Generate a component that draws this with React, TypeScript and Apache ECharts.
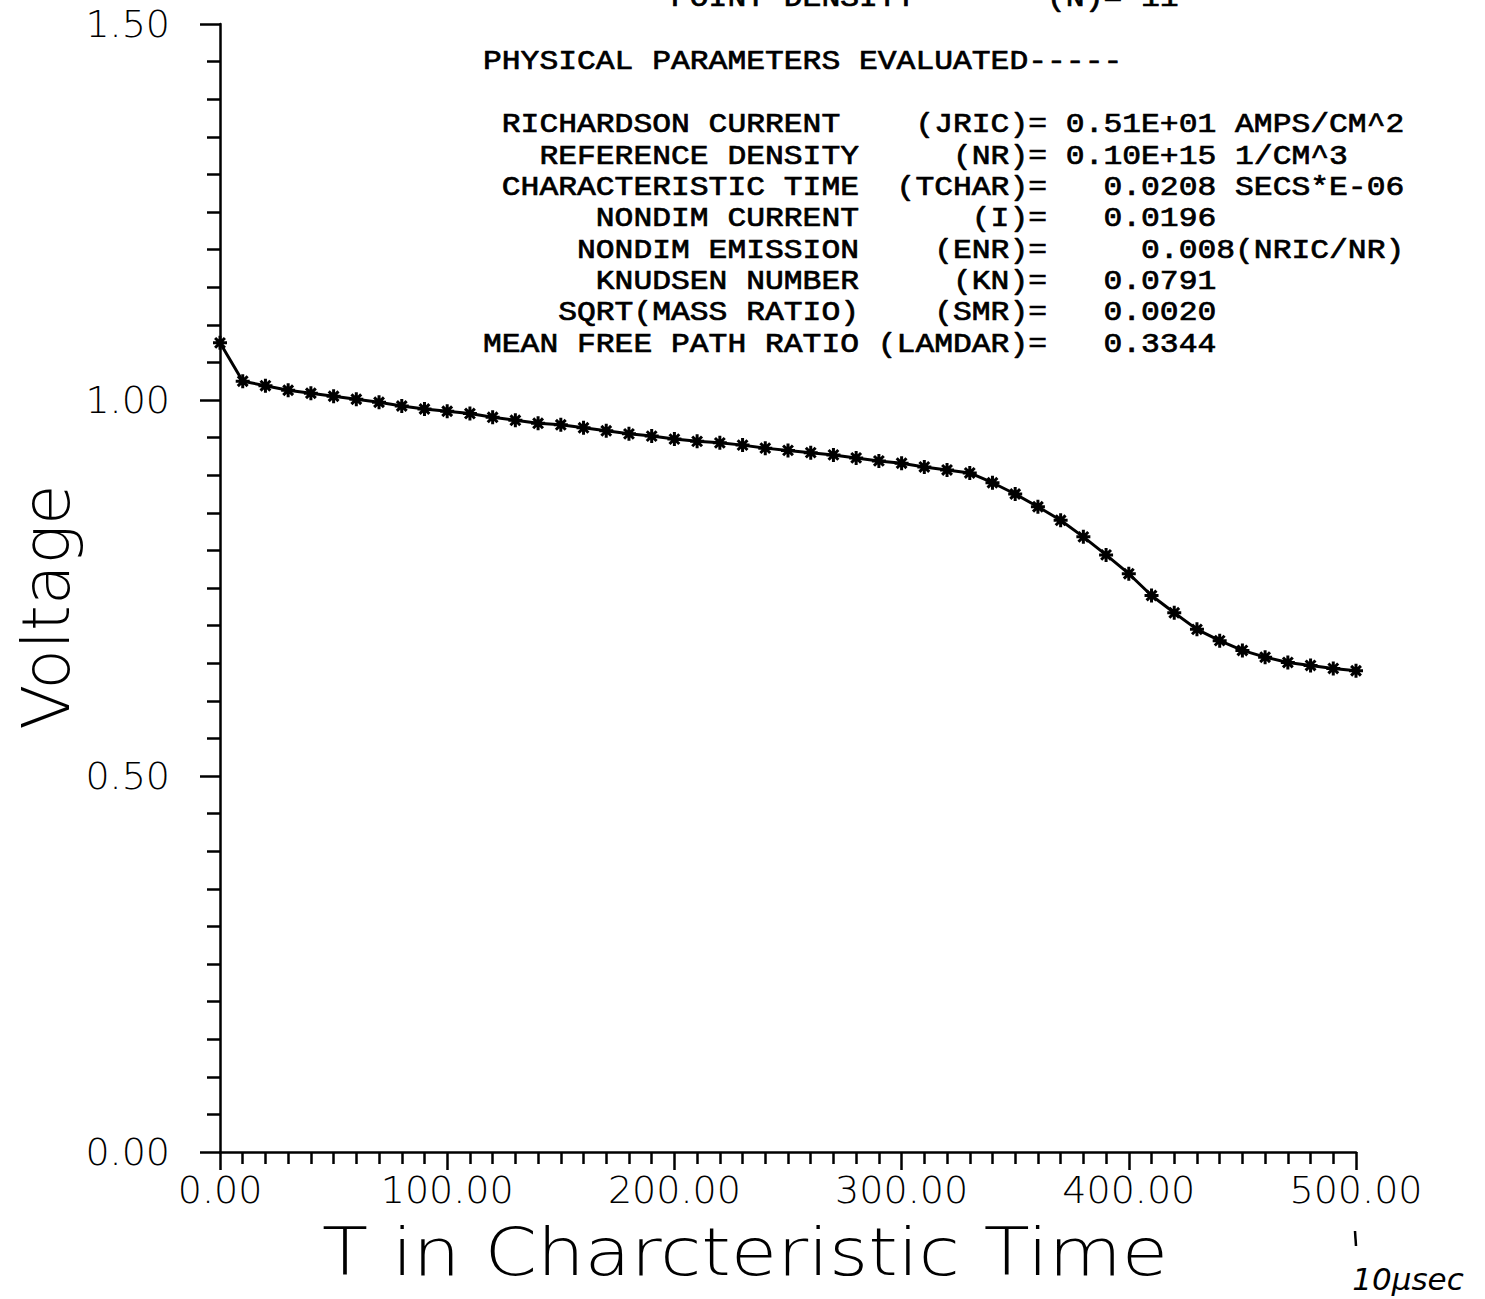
import React, { useEffect, useRef } from "react";
import * as echarts from "echarts";

const times = [0, 10, 20, 30, 40, 50, 60, 70, 80, 90, 100, 110, 120, 130, 140, 150, 160, 170, 180, 190, 200, 210, 220, 230, 240, 250, 260, 270, 280, 290, 300, 310, 320, 330, 340, 350, 360, 370, 380, 390, 400, 410, 420, 430, 440, 450, 460, 470, 480, 490, 500];
const voltages = [1.076, 1.025, 1.019, 1.013, 1.009, 1.005, 1.001, 0.997, 0.992, 0.988, 0.985, 0.982, 0.977, 0.973, 0.969, 0.967, 0.963, 0.959, 0.955, 0.952, 0.948, 0.945, 0.943, 0.940, 0.936, 0.933, 0.930, 0.927, 0.923, 0.919, 0.916, 0.911, 0.907, 0.903, 0.890, 0.875, 0.858, 0.840, 0.818, 0.794, 0.769, 0.740, 0.717, 0.695, 0.680, 0.667, 0.658, 0.651, 0.647, 0.643, 0.640];

const headerLine = "          POINT DENSITY       (N)= 11";
const sectionTitle = "PHYSICAL PARAMETERS EVALUATED-----";
const paramNames = ["RICHARDSON CURRENT ", "REFERENCE DENSITY", "CHARACTERISTIC TIME", "NONDIM CURRENT", "NONDIM EMISSION", "KNUDSEN NUMBER", "SQRT(MASS RATIO)", "MEAN FREE PATH RATIO"];
const paramSymbols = ["(JRIC)=", "(NR)=", "(TCHAR)=", "(I)=", "(ENR)=", "(KN)=", "(SMR)=", "(LAMDAR)="];
const paramValues = [" 0.51E+01 AMPS/CM^2", " 0.10E+15 1/CM^3", "   0.0208 SECS*E-06", "   0.0196", "     0.008(NRIC/NR)", "   0.0791", "   0.0020", "   0.3344"];

const xLabel = "T in Charcteristic Time";
const yLabel = "Voltage";
const noteText = "10\u00B5sec";

const nb = (s: string) => s.replace(/ /g, "\u00A0");

export default function App() {
  const ref = useRef<HTMLDivElement>(null);
  useEffect(() => {
    document.body.style.margin = "0";
    const chart = echarts.init(ref.current!, undefined, { renderer: "svg" });
    const mono = "'Liberation Mono', 'DejaVu Sans Mono', monospace";
    const sans = "'DejaVu Sans', 'Open Sans', sans-serif";
    const textX = 483;
    const lines: { t: string; y: number }[] = [
      { t: headerLine, y: -1 },
      { t: sectionTitle, y: 62 },
    ];
    paramNames.forEach((n, i) => {
      const name = n.trimEnd();
      const full = (i === 0 ? name.padStart(19).padEnd(20) : name.padStart(20)) + paramSymbols[i].padStart(10) + paramValues[i];
      lines.push({ t: full, y: 125 + i * 31.3 });
    });
    const graphics: any[] = lines.map((l) => ({
      type: "text",
      x: textX,
      y: l.y,
      scaleX: 1.14,
      silent: true,
      style: {
        text: nb(l.t),
        fontFamily: mono,
        fontSize: 27.5,
        fontWeight: "normal",
        lineHeight: 28,
        fill: "#000",
        stroke: "#000",
        lineWidth: 0.7,
        align: "left",
        verticalAlign: "middle",
      },
    }));
    graphics.push({
      type: "text",
      x: 745,
      y: 1252,
      scaleX: 1.14,
      style: { text: xLabel, fontFamily: sans, fontWeight: 200, fontSize: 66, lineHeight: 56, fill: "#000", align: "center", verticalAlign: "middle" },
    });
    graphics.push({
      type: "text",
      x: 46,
      y: 607,
      rotation: Math.PI / 2,
      style: { text: yLabel, fontFamily: sans, fontWeight: 200, fontSize: 66, lineHeight: 56, fill: "#000", align: "center", verticalAlign: "middle" },
    });
    graphics.push({
      type: "line",
      shape: { x1: 1355, y1: 1231, x2: 1356, y2: 1246 },
      style: { stroke: "#000", lineWidth: 2.5 },
    });
    graphics.push({
      type: "text",
      x: 1408,
      y: 1279,
      style: { text: noteText, fontFamily: "'DejaVu Sans', sans-serif", fontStyle: "italic", fontSize: 31, lineHeight: 30, fill: "#000", align: "center", verticalAlign: "middle" },
    });

    chart.setOption({
      animation: false,
      backgroundColor: "#fff",
      grid: { left: 220, right: 129, top: 24, bottom: 147 },
      xAxis: {
        type: "value",
        min: 0,
        max: 500,
        interval: 100,
        axisLine: { show: true, onZero: false, lineStyle: { color: "#000", width: 2.5 } },
        axisTick: { show: true, length: 18, lineStyle: { color: "#000", width: 2.5 } },
        minorTick: { show: true, splitNumber: 10, length: 12, lineStyle: { color: "#000", width: 2.5 } },
        splitLine: { show: false },
        minorSplitLine: { show: false },
        axisLabel: { margin: 20, fontFamily: sans, fontWeight: 200, fontSize: 38, lineHeight: 36, color: "#000", formatter: (v: number) => v.toFixed(2) },
      },
      yAxis: {
        type: "value",
        min: 0,
        max: 1.5,
        interval: 0.5,
        axisLine: { show: true, onZero: false, lineStyle: { color: "#000", width: 2.5 } },
        axisTick: { show: true, length: 20, lineStyle: { color: "#000", width: 2.5 } },
        minorTick: { show: true, splitNumber: 10, length: 13, lineStyle: { color: "#000", width: 2.5 } },
        splitLine: { show: false },
        minorSplitLine: { show: false },
        axisLabel: { margin: 50, fontFamily: sans, fontWeight: 200, fontSize: 38, lineHeight: 38, color: "#000", formatter: (v: number) => v.toFixed(2) },
      },
      series: [
        {
          type: "line",
          data: times.map((t, i) => [t, voltages[i]]),
          symbol: "path://M6 0V12M0 6H12M1.8 1.8L10.2 10.2M10.2 1.8L1.8 10.2",
          symbolSize: 14,
          symbolKeepAspect: true,
          showAllSymbol: true,
          lineStyle: { color: "#000", width: 3 },
          itemStyle: { color: "#000", borderColor: "#000", borderWidth: 3 },
        },
      ],
      graphic: graphics,
    });
    return () => chart.dispose();
  }, []);
  return <div ref={ref} style={{ width: 1485, height: 1299 }} />;
}
